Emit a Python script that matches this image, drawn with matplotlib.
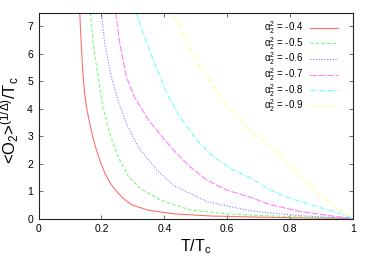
import numpy as np
import matplotlib
matplotlib.use('Agg')
import matplotlib.pyplot as plt

plt.rcParams['font.family'] = ['Liberation Sans', 'DejaVu Sans']
plt.rcParams['mathtext.default'] = 'regular'

# values (T/Tc, <O2>^(1/Delta)/Tc)
t_04 = [0.131, 0.136, 0.141, 0.147, 0.155, 0.163, 0.173, 0.184, 0.197, 0.211, 0.23, 0.253, 0.275, 0.30, 0.35, 0.43, 0.55, 0.70, 0.85, 1.0]
o_04 = [7.5, 6.3, 5.3, 4.5, 3.9, 3.45, 2.95, 2.5, 2.05, 1.65, 1.25, 0.92, 0.68, 0.48, 0.30, 0.17, 0.09, 0.05, 0.02, 0.0]

t_05 = [0.165, 0.174, 0.19, 0.205, 0.227, 0.253, 0.285, 0.323, 0.387, 0.483, 0.60, 0.70, 0.85, 1.0]
o_05 = [7.5, 6.34, 5.13, 4.05, 3.08, 2.24, 1.55, 1.10, 0.67, 0.31, 0.17, 0.11, 0.05, 0.0]

t_06 = [0.20, 0.211, 0.232, 0.253, 0.28, 0.317, 0.377, 0.43, 0.536, 0.674, 0.74, 0.834, 1.0]
o_06 = [7.5, 6.34, 5.13, 4.29, 3.44, 2.6, 1.75, 1.2, 0.61, 0.28, 0.20, 0.10, 0.0]

t_07 = [0.245, 0.259, 0.28, 0.306, 0.349, 0.377, 0.43, 0.483, 0.536, 0.60, 0.674, 0.738, 0.834, 0.94, 1.0]
o_07 = [7.5, 6.34, 5.13, 4.41, 3.6, 3.2, 2.48, 1.87, 1.39, 1.03, 0.77, 0.50, 0.25, 0.08, 0.0]

t_08 = [0.312, 0.323, 0.366, 0.409, 0.451, 0.504, 0.557, 0.621, 0.674, 0.738, 0.802, 0.887, 0.961, 1.0]
o_08 = [7.5, 7.06, 5.73, 4.53, 3.68, 2.84, 2.24, 1.75, 1.48, 1.03, 0.73, 0.43, 0.17, 0.0]

t_09 = [0.43, 0.483, 0.536, 0.589, 0.642, 0.674, 0.728, 0.781, 0.834, 0.887, 0.94, 1.0]
o_09 = [7.5, 6.1, 5.13, 4.29, 3.56, 3.2, 2.72, 2.12, 1.51, 0.91, 0.43, 0.0]

labels = ['-0.4', '-0.5', '-0.6', '-0.7', '-0.8', '-0.9']
series = [(t_04, o_04), (t_05, o_05), (t_06, o_06), (t_07, o_07), (t_08, o_08), (t_09, o_09)]
colors = ['#ff7070', '#70ff70', '#8080ff', '#ff80ff', '#60ffff', '#ffff70']
styles = ['-', (0, (3, 2)), (0, (1, 1.5)), (0, (6, 1.5)), (0, (4, 1.5, 1, 1.5)), (0, (1, 2, 3, 2))]

fig = plt.figure(figsize=(3.74, 2.62), dpi=100)
ax = fig.add_axes([0.103, 0.166, 0.841, 0.786])

for (t, o), lab, c, ls in zip(series, labels, colors, styles):
    ax.plot(t, o, color=c, ls=ls, lw=0.8, label='α$_2^2$ = ' + lab)

ax.set_xlim(0, 1)
ax.set_ylim(0, 7.5)
ax.set_xticks([0, 0.2, 0.4, 0.6, 0.8, 1])
ax.set_xticklabels(['0', '0.2', '0.4', '0.6', '0.8', '1'])
ax.set_yticks(range(8))
ax.tick_params(direction='in', length=3, width=0.6, top=True, right=True,
               labelsize=7.5, pad=4, color='#555555')
for s in ax.spines.values():
    s.set_linewidth(0.8)
    s.set_color('#222222')

ax.set_xlabel('T/T$_c$', fontsize=11.5, labelpad=2)
ax.set_ylabel('<O$_2$>$^{(1/\\Delta)}$/T$_c$', fontsize=12)
ax.yaxis.set_label_coords(-0.057, 0.48)

ax.legend(loc='upper right', bbox_to_anchor=(0.975, 1.0), frameon=False, markerfirst=False,
          fontsize=7, handlelength=2.9, handletextpad=0.7, labelspacing=-0.12,
          borderaxespad=0.3)

fig.savefig('out.png', dpi=100)
